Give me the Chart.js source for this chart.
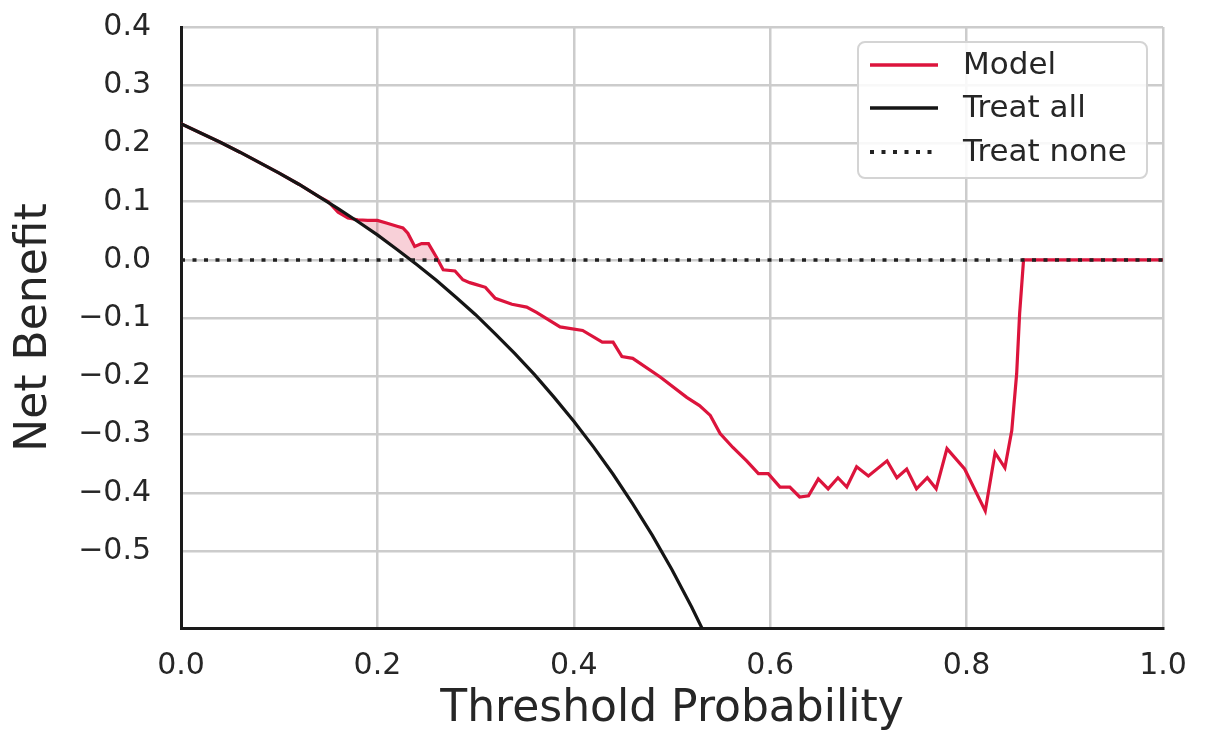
<!DOCTYPE html>
<html>
<head>
<meta charset="utf-8">
<script src="https://cdn.jsdelivr.net/npm/chart.js@4.4.1/dist/chart.umd.min.js"></script>
<style>
html,body{margin:0;padding:0;background:#fff}
#wrap{width:1205px;height:734px}
</style>
</head>
<body>
<div id="wrap"><canvas id="chart" width="1205" height="734"></canvas></div>
<script>
// threshold probabilities and net benefit
const modelX=[0,0.02,0.04,0.06,0.08,0.10,0.12,0.14,0.15,0.16,0.17,0.18,0.19,0.20,0.21,0.22,0.226,0.231,0.238,0.245,0.252,0.26,0.267,0.279,0.287,0.294,0.30,0.31,0.32,0.337,0.352,0.362,0.386,0.409,0.429,0.44,0.449,0.46,0.488,0.515,0.528,0.539,0.549,0.562,0.576,0.588,0.598,0.61,0.62,0.63,0.639,0.649,0.659,0.669,0.678,0.688,0.70,0.719,0.729,0.739,0.749,0.76,0.769,0.78,0.798,0.819,0.829,0.839,0.846,0.851,0.854,0.858,0.90,0.95,1.0]
const modelY=[0.234,0.218,0.202,0.185,0.167,0.149,0.130,0.109,0.100,0.082,0.072,0.069,0.068,0.068,0.063,0.058,0.055,0.046,0.023,0.028,0.028,0.005,-0.017,-0.019,-0.034,-0.039,-0.042,-0.047,-0.066,-0.076,-0.081,-0.090,-0.115,-0.121,-0.141,-0.141,-0.166,-0.169,-0.201,-0.236,-0.250,-0.267,-0.298,-0.322,-0.345,-0.367,-0.367,-0.390,-0.390,-0.407,-0.405,-0.376,-0.393,-0.374,-0.390,-0.355,-0.371,-0.345,-0.374,-0.359,-0.393,-0.374,-0.393,-0.324,-0.359,-0.431,-0.331,-0.357,-0.293,-0.195,-0.092,0,0,0,0]

const allX=[0,0.02,0.04,0.06,0.08,0.10,0.12,0.14,0.16,0.18,0.20,0.22,0.23,0.24,0.26,0.28,0.30,0.32,0.34,0.36,0.38,0.40,0.42,0.44,0.46,0.48,0.50,0.52,0.54,0.56]
const allY=[0.234,0.218,0.202,0.185,0.167,0.149,0.130,0.109,0.088,0.066,0.043,0.018,0.005,-0.008,-0.035,-0.064,-0.094,-0.127,-0.161,-0.197,-0.236,-0.277,-0.321,-0.368,-0.419,-0.473,-0.532,-0.596,-0.665,-0.741]

const noneX=[0,1]
const noneY=[0,0]

const xTicks=[0,0.2,0.4,0.6,0.8,1.0]
const yTicks=[-0.5,-0.4,-0.3,-0.2,-0.1,0,0.1,0.2,0.3,0.4]

const pts=(xs,ys)=>xs.map((x,i)=>({x:x,y:ys[i]}))

// upper edge of treat all / treat none, used only as the fill boundary
const envelope=pts(allX,allY.map(v=>Math.max(v,0)))
envelope.push({x:1,y:0})

const FONT="'DejaVu Sans', sans-serif"
const TXT="#262626"

const legendBox={
id:"legendBox",
afterDraw(chart){
const ctx=chart.ctx
const items=chart.data.datasets.filter(d=>d.label)
ctx.save()
// frame
ctx.beginPath()
ctx.roundRect(858,42,289,136,7)
ctx.fillStyle="rgba(255,255,255,0.85)"
ctx.fill()
ctx.lineWidth=2
ctx.strokeStyle="#d4d4d4"
ctx.stroke()
const rows=[65,108,152]
items.forEach((d,i)=>{
const y=rows[i]
ctx.beginPath()
ctx.setLineDash(d.borderDash||[])
ctx.lineWidth=d.borderWidth+0.5
ctx.strokeStyle=d.borderColor
ctx.moveTo(870,y)
ctx.lineTo(938,y)
ctx.stroke()
ctx.setLineDash([])
ctx.fillStyle=TXT
ctx.font="31px "+FONT
ctx.textBaseline="middle"
ctx.textAlign="left"
ctx.fillText(d.label,963,y+1)
})
ctx.restore()
}
}

new Chart(document.getElementById("chart"),{
type:"line",
data:{
datasets:[
{
label:"Model",
data:pts(modelX,modelY),
borderColor:"#dc143c",
borderWidth:3.2,
pointRadius:0,
tension:0,
order:3,
fill:{target:3,above:"rgba(220,20,60,0.2)",below:"rgba(0,0,0,0)"}
},
{
label:"Treat all",
data:pts(allX,allY),
borderColor:"#151515",
borderWidth:3.2,
pointRadius:0,
tension:0,
order:2,
fill:false
},
{
label:"Treat none",
data:pts(noneX,noneY),
borderColor:"#222222",
borderWidth:3.5,
borderDash:[4,7.5],
pointRadius:0,
order:1,
fill:false
},
{
data:envelope,
borderWidth:0,
borderColor:"rgba(0,0,0,0)",
pointRadius:0,
order:4,
fill:false
}
]
},
options:{
responsive:false,
animation:false,
layout:{padding:{top:27,right:42,left:0,bottom:0}},
plugins:{
legend:{display:false},
tooltip:{enabled:false}
},
scales:{
x:{
type:"linear",
min:0,
max:1,
afterBuildTicks:s=>{s.ticks=xTicks.map(v=>({value:v}))},
afterFit:s=>{s.height=106;s.paddingLeft=0;s.paddingRight=0},
ticks:{
font:{family:FONT,size:30},
color:TXT,
padding:20,
maxRotation:0,
callback:v=>v.toFixed(1)
},
grid:{color:"#cccccc",lineWidth:2.5,drawTicks:false},
border:{color:"#1a1a1a",width:3},
title:{
display:true,
text:"Threshold Probability",
font:{family:FONT,size:44,lineHeight:1},
color:TXT,
padding:{top:0,bottom:2}
}
},
y:{
type:"linear",
min:-0.632,
max:0.4,
afterBuildTicks:s=>{s.ticks=yTicks.map(v=>({value:v}))},
afterFit:s=>{s.width=181;s.paddingTop=0;s.paddingBottom=0},
ticks:{
font:{family:FONT,size:30},
color:TXT,
padding:30,
callback:v=>(v<0?"\u2212":"")+Math.abs(v).toFixed(1)
},
grid:{color:"#cccccc",lineWidth:2.5,drawTicks:false},
border:{color:"#1a1a1a",width:3},
title:{
display:true,
text:"Net Benefit",
font:{family:FONT,size:44,lineHeight:1},
color:TXT,
padding:{top:13,bottom:0}
}
}
}
},
plugins:[legendBox]
})
</script>
</body>
</html>
